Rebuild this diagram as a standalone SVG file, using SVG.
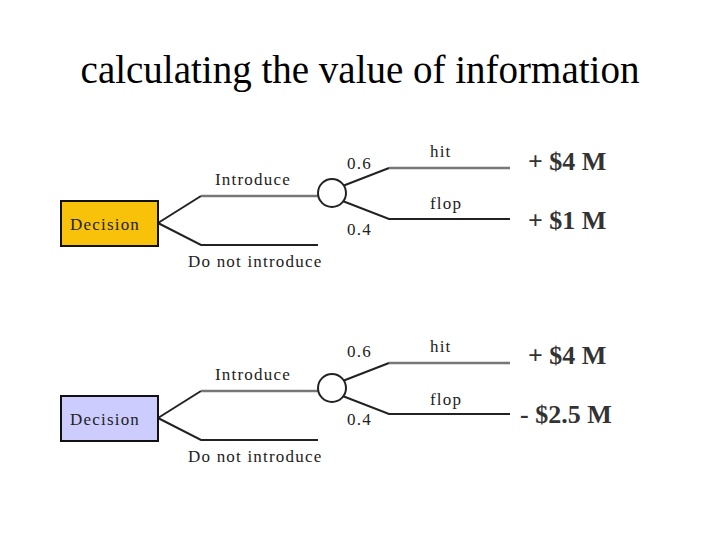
<svg xmlns="http://www.w3.org/2000/svg" width="720" height="540" viewBox="0 0 720 540">
<style>
.t{font-family:"Liberation Serif",serif;font-size:17px;letter-spacing:1.2px;fill:#222}
.v{font-family:"Liberation Serif",serif;font-size:26px;font-weight:bold;fill:#333}
.l{fill:none;stroke:#222;stroke-width:2}
.g{fill:none;stroke:#777;stroke-width:2.5}
.box{stroke:#111;stroke-width:2}
</style>
<rect width="720" height="540" fill="#fff"/>
<text x="360" y="83" text-anchor="middle" font-family="Liberation Serif, serif" font-size="39">calculating the value of information</text>
<g id="connectors">
<g>
<path class="l" d="M158,223 L201,196"/><path class="g" d="M201,196 H319"/>
<path class="l" d="M158,223 L201,245 H318"/>
<path class="l" d="M340,187 L389,168"/><path class="g" d="M389,168 H510"/>
<path class="l" d="M340,200 L389,219 H510"/>
</g>
<g transform="translate(0,195)">
<path class="l" d="M158,223 L201,196"/><path class="g" d="M201,196 H319"/>
<path class="l" d="M158,223 L201,245 H318"/>
<path class="l" d="M340,187 L389,168"/><path class="g" d="M389,168 H510"/>
<path class="l" d="M340,200 L389,219 H510"/>
</g>
</g>
<g id="decision1"><rect class="box" x="61" y="201" width="97" height="45" fill="#f9c20a"/><text class="t" x="70" y="230">Decision</text></g>
<g id="decision2"><rect class="box" x="61" y="396" width="97" height="45" fill="#ccccff"/><text class="t" x="70" y="425">Decision</text></g>
<g id="chance1"><circle cx="332" cy="193" r="14" fill="#fff" stroke="#222" stroke-width="2"/></g>
<g id="chance2"><circle cx="332" cy="388" r="14" fill="#fff" stroke="#222" stroke-width="2"/></g>
<g id="labels1">
<text class="t" x="215" y="185">Introduce</text>
<text class="t" x="188" y="267">Do not introduce</text>
<text class="t" x="347" y="169">0.6</text>
<text class="t" x="347" y="235">0.4</text>
<text class="t" x="430" y="157">hit</text>
<text class="t" x="430" y="209">flop</text>
<text class="v" x="528" y="170">+ $4 M</text>
<text class="v" x="528" y="229">+ $1 M</text>
</g>
<g id="labels2">
<text class="t" x="215" y="380">Introduce</text>
<text class="t" x="188" y="462">Do not introduce</text>
<text class="t" x="347" y="357">0.6</text>
<text class="t" x="347" y="425">0.4</text>
<text class="t" x="430" y="352">hit</text>
<text class="t" x="430" y="405">flop</text>
<text class="v" x="528" y="364">+ $4 M</text>
<text class="v" x="520" y="423">- $2.5 M</text>
</g>
</svg>
